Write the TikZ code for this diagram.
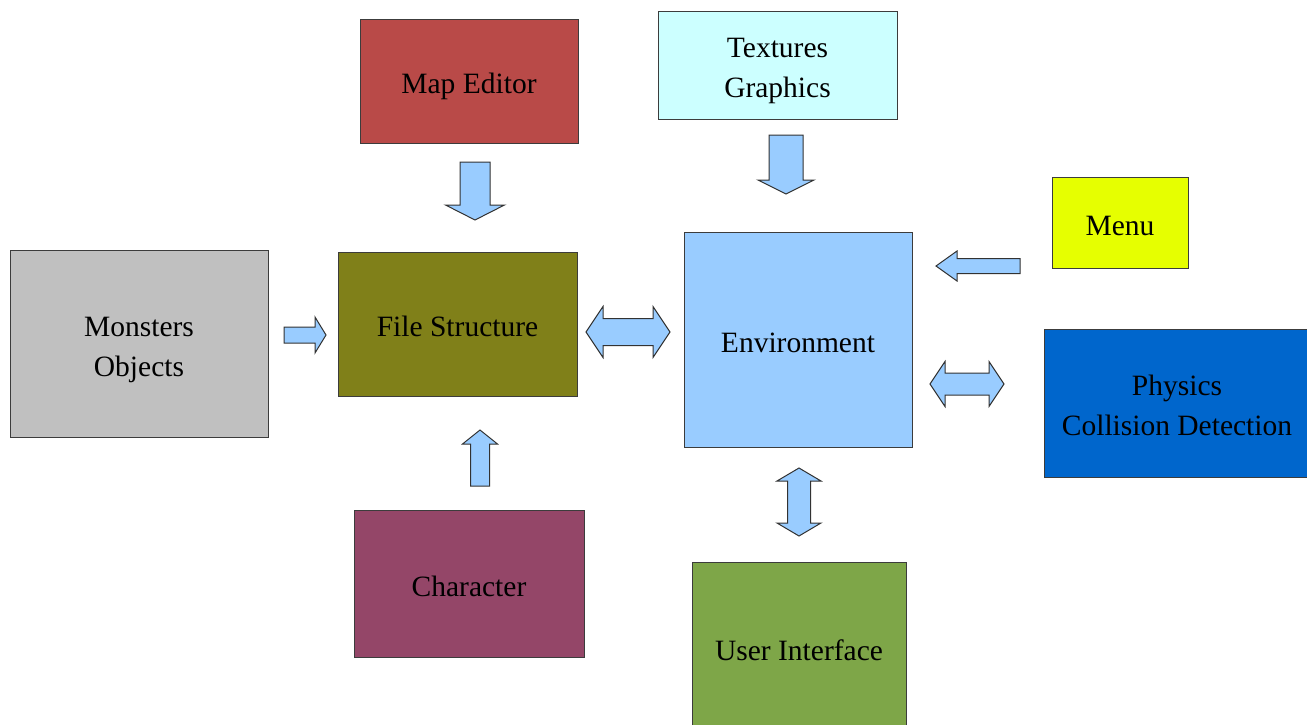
\documentclass[tikz,border=0pt]{standalone}
\usepackage{fontspec}
\setmainfont{Liberation Serif}
\usetikzlibrary{calc}
\definecolor{mapred}{RGB}{185,74,72}
\definecolor{texcyan}{RGB}{204,255,255}
\definecolor{menuyellow}{RGB}{230,255,0}
\definecolor{monstergray}{RGB}{192,192,192}
\definecolor{fileolive}{RGB}{128,128,25}
\definecolor{envblue}{RGB}{153,204,255}
\definecolor{physblue}{RGB}{0,102,204}
\definecolor{charplum}{RGB}{148,70,104}
\definecolor{uigreen}{RGB}{126,166,72}
\definecolor{boxline}{RGB}{60,60,60}
\definecolor{arrfill}{RGB}{153,204,255}
\definecolor{arrline}{RGB}{50,50,50}

\tikzset{
  shaftw/.store in=\shaftw, headw/.store in=\headw, headl/.store in=\headl,
  shaftw=20pt, headw=40pt, headl=14pt,
  block/.style={draw=boxline, line width=1pt, inner sep=0pt, align=center,
    text height=30pt, text depth=5pt, font=\fontsize{29.5}{40}\selectfont},
  twolines/.style={text height=70pt},
  % block arrow with one head
  fat/.style={draw=arrline, fill=arrfill, line width=1pt, to path={
    ($(\tikztostart)!\shaftw/2!90:(\tikztotarget)$)
    -- ($(\tikztotarget)!\headl!(\tikztostart)!\shaftw/2!90:(\tikztotarget)$)
    -- ($(\tikztotarget)!\headl!(\tikztostart)!\headw/2!90:(\tikztotarget)$)
    -- (\tikztotarget)
    -- ($(\tikztotarget)!\headl!(\tikztostart)!\headw/2!-90:(\tikztotarget)$)
    -- ($(\tikztotarget)!\headl!(\tikztostart)!\shaftw/2!-90:(\tikztotarget)$)
    -- ($(\tikztostart)!\shaftw/2!-90:(\tikztotarget)$) -- cycle}},
  % block arrow with two heads
  fatboth/.style={draw=arrline, fill=arrfill, line width=1pt, to path={
    (\tikztostart)
    -- ($(\tikztostart)!\headl!(\tikztotarget)!\headw/2!90:(\tikztotarget)$)
    -- ($(\tikztostart)!\headl!(\tikztotarget)!\shaftw/2!90:(\tikztotarget)$)
    -- ($(\tikztotarget)!\headl!(\tikztostart)!\shaftw/2!90:(\tikztotarget)$)
    -- ($(\tikztotarget)!\headl!(\tikztostart)!\headw/2!90:(\tikztotarget)$)
    -- (\tikztotarget)
    -- ($(\tikztotarget)!\headl!(\tikztostart)!\headw/2!-90:(\tikztotarget)$)
    -- ($(\tikztotarget)!\headl!(\tikztostart)!\shaftw/2!-90:(\tikztotarget)$)
    -- ($(\tikztostart)!\headl!(\tikztotarget)!\shaftw/2!-90:(\tikztotarget)$)
    -- ($(\tikztostart)!\headl!(\tikztotarget)!\headw/2!-90:(\tikztotarget)$)
    -- cycle}}
}

\begin{document}
\begin{tikzpicture}[x=1pt,y=-1pt]
  \useasboundingbox (0,0) rectangle (1307,725);

  % boxes
  \node[block, fill=mapred, minimum width=218pt, minimum height=123pt] (mapedit) at (469,81.5) {Map Editor};
  \node[block, twolines, fill=texcyan, minimum width=239pt, minimum height=107pt] (textures) at (777.5,65.5) {Textures\\Graphics};
  \node[block, fill=menuyellow, minimum width=136pt, minimum height=91pt] (menu) at (1120,222.5) {Menu};
  \node[block, twolines, fill=monstergray, minimum width=258pt, minimum height=187pt] (monsters) at (139,343.5) {Monsters\\Objects};
  \node[block, fill=fileolive, minimum width=239pt, minimum height=144pt] (filestr) at (457.5,324) {File Structure};
  \node[block, fill=envblue, minimum width=228pt, minimum height=215pt] (environ) at (798,339.5) {Environment};
  \node[block, twolines, fill=physblue, minimum width=266pt, minimum height=148pt] (physics) at (1177,403) {Physics\\Collision Detection};
  \node[block, fill=charplum, minimum width=230pt, minimum height=147pt] (charac) at (469,583.5) {Character};
  \node[block, fill=uigreen, minimum width=214pt, minimum height=172pt] (userif) at (799,648) {User Interface};

  % arrow ends
  \coordinate (mapS) at (475,162);   \coordinate (mapT) at (475,220);
  \coordinate (texS) at (786,135);   \coordinate (texT) at (786,194);
  \coordinate (menuS) at (1020,266); \coordinate (menuT) at (936,266);
  \coordinate (monS) at (284,335);   \coordinate (monT) at (326,335);
  \coordinate (fileL) at (586,332);  \coordinate (fileR) at (670,332);
  \coordinate (physL) at (930,384);  \coordinate (physR) at (1004,384);
  \coordinate (charS) at (480,486);  \coordinate (charT) at (480,430);
  \coordinate (uiT) at (799,468);    \coordinate (uiB) at (799,536);

  % arrows
  \draw[fat, shaftw=30pt, headw=59pt, headl=15pt] (mapS) to (mapT);
  \draw[fat, shaftw=34pt, headw=56pt, headl=14pt] (texS) to (texT);
  \draw[fat, shaftw=15pt, headw=30pt, headl=21pt] (menuS) to (menuT);
  \draw[fat, shaftw=16pt, headw=36pt, headl=11pt] (monS) to (monT);
  \draw[fat, shaftw=19pt, headw=35pt, headl=14pt] (charS) to (charT);
  \draw[fatboth, shaftw=27pt, headw=51pt, headl=17pt] (fileL) to (fileR);
  \draw[fatboth, shaftw=22pt, headw=45pt, headl=15pt] (physL) to (physR);
  \draw[fatboth, shaftw=23pt, headw=44pt, headl=13pt] (uiT) to (uiB);
\end{tikzpicture}
\end{document}
